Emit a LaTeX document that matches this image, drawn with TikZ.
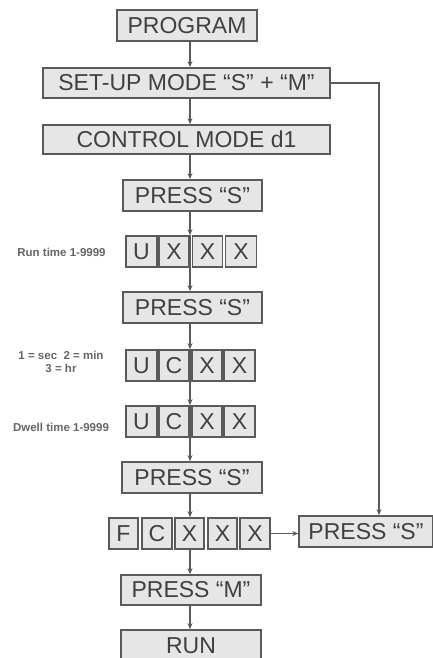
\documentclass[tikz,border=0pt]{standalone}
\usepackage{fontspec}
\setmainfont{Liberation Sans}
\usetikzlibrary{arrows.meta}
\definecolor{bord}{HTML}{5A5A5A}
\definecolor{boxfill}{HTML}{E6E6E6}
\definecolor{txt}{HTML}{404040}
\begin{document}
\begin{tikzpicture}[x=1pt,y=-1pt,
  box/.style={draw=bord, line width=1.7pt, fill=boxfill, text=txt, inner sep=0pt,
    font=\fontsize{23}{23}\selectfont, anchor=center},
  cell/.style={box, minimum width=30pt, minimum height=31pt},
  link/.style={draw=bord, line width=1.3pt},
  arr/.style={link, -{Stealth[length=6pt,width=5pt]}},
  side/.style={text=txt!80, font=\fontsize{11.5}{13}\selectfont\bfseries, align=center, inner sep=0pt}]
\useasboundingbox (0,0) rectangle (433,658);
\clip (0,0) rectangle (433,658);
\fill[white] (0,0) rectangle (433,658);
\coordinate (ax) at (190,0);
\coordinate (rx) at (379,0);
% main boxes
\node[box, minimum width=140pt, minimum height=31pt] (prog) at (187,25.5) {PROGRAM};
\node[box, minimum width=287pt, minimum height=30pt] (setup) at (186.5,83) {SET-UP MODE “S” + “M”};
\node[box, minimum width=287pt, minimum height=29pt] (ctrl) at (186.5,139.5) {CONTROL MODE d1};
\node[box, minimum width=139pt, minimum height=31pt] (ps1) at (192.5,195.5) {PRESS “S”};
% row 1
\node[cell, minimum width=31pt] (a1) at (141.5,251.5) {U};
\node[cell] (a2) at (174,251.5) {X};
\node[cell] (a3) at (207.5,251.5) {X};
\node[cell, minimum width=31pt] (a4) at (241,251.5) {X};
\node[box, minimum width=139pt, minimum height=31pt] (ps2) at (192.5,307.5) {PRESS “S”};
% row 2
\node[cell, minimum width=31pt] (b1) at (141.5,365.5) {U};
\node[cell] (b2) at (174,365.5) {C};
\node[cell] (b3) at (207,365.5) {X};
\node[cell, minimum width=31pt] (b4) at (239.5,365.5) {X};
% row 3
\node[cell, minimum width=31pt] (c1) at (141.5,421.5) {U};
\node[cell] (c2) at (174,421.5) {C};
\node[cell] (c3) at (207,421.5) {X};
\node[cell, minimum width=31pt] (c4) at (239.5,421.5) {X};
\node[box, minimum width=140pt, minimum height=31pt] (ps3) at (192,477.5) {PRESS “S”};
% row 4
\node[cell, minimum width=29pt] (d1) at (123.5,533.5) {F};
\node[cell] (d2) at (157,533.5) {C};
\node[cell, minimum width=29pt] (d3) at (189.5,533.5) {X};
\node[cell, minimum width=29pt] (d4) at (222.5,533.5) {X};
\node[cell] (d5) at (255,533.5) {X};
\node[box, minimum width=134pt, minimum height=31pt] (psr) at (366,531.5) {PRESS “S”};
\node[box, minimum width=140pt, minimum height=30pt] (pm) at (191,590) {PRESS “M”};
\node[box, minimum width=140pt, minimum height=32pt] (run) at (191,646) {RUN};
% side labels
\node[side] (l1) at (61.5,252) {Run time 1-9999};
\node[side] (l2) at (61,362) {1 = sec\ \ 2 = min\\3 = hr};
\node[side] (l3) at (61,427) {Dwell time 1-9999};
% connectors
\draw[arr] (prog.south -| ax) -- (setup.north -| ax);
\draw[arr] (setup.south -| ax) -- (ctrl.north -| ax);
\draw[arr] (ctrl.south -| ax) -- (ps1.north -| ax);
\draw[arr] (ps1.south -| ax) -- (a2.north -| ax);
\draw[link] (a2.north -| ax) -- (a2.south -| ax);
\draw[arr] (a2.south -| ax) -- (ps2.north -| ax);
\draw[arr] (ps2.south -| ax) -- (b2.north -| ax);
\draw[link] (b2.north -| ax) -- (b2.south -| ax);
\draw[arr] (b2.south -| ax) -- (c2.north -| ax);
\draw[link] (c2.north -| ax) -- (c2.south -| ax);
\draw[arr] (c2.south -| ax) -- (ps3.north -| ax);
\draw[arr] (ps3.south -| ax) -- (d3.north -| ax);
\draw[arr] (d3.south -| ax) -- (pm.north -| ax);
\draw[arr] (pm.south -| ax) -- (run.north -| ax);
\draw[arr] (d5.east) -- (psr.west |- d5.east);
\draw[arr] (setup.east) -- (setup.east -| rx) -- (psr.north -| rx);
\end{tikzpicture}
\end{document}
